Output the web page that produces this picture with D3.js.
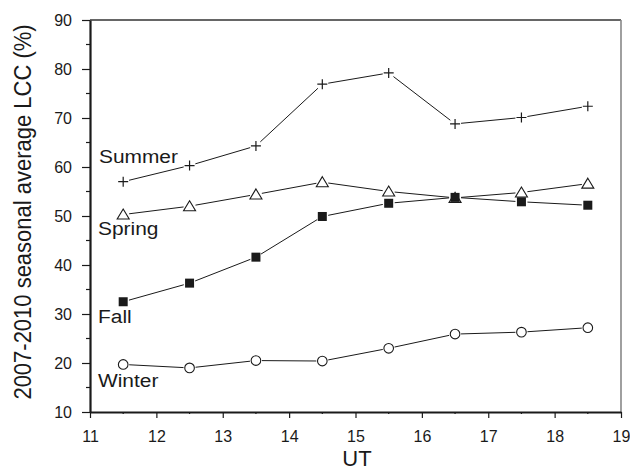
<!DOCTYPE html>
<html>
<head>
<meta charset="utf-8">
<script src="https://cdn.jsdelivr.net/npm/d3@7"></script>
<style>
  body { margin: 0; background: #fff; }
  svg { display: block; font-family: "Liberation Sans", Arial, sans-serif; }
</style>
</head>
<body>
<svg id="chart" width="630" height="471"></svg>
<script>
// data
var hours = [11.5, 12.5, 13.5, 14.5, 15.5, 16.5, 17.5, 18.5];
var summer = [57.0, 60.3, 64.3, 76.9, 79.2, 68.8, 70.1, 72.4];
var spring = [50.3, 52.0, 54.4, 56.9, 55.0, 53.7, 54.8, 56.6];
var fall   = [32.5, 36.3, 41.6, 49.9, 52.6, 53.8, 52.9, 52.2];
var winter = [19.7, 19.0, 20.5, 20.4, 23.0, 25.9, 26.3, 27.2];
var xTicks = [11, 12, 13, 14, 15, 16, 17, 18, 19];
var yTicks = [10, 20, 30, 40, 50, 60, 70, 80, 90];

var series = [
  { name: "Summer", values: summer, marker: "plus",     lx: 99, ly: 163 },
  { name: "Spring", values: spring, marker: "triangle", lx: 98, ly: 235 },
  { name: "Fall",   values: fall,   marker: "square",   lx: 98, ly: 323 },
  { name: "Winter", values: winter, marker: "circle",   lx: 98, ly: 387 }
];

var svg = d3.select("#chart");
var pLeft = 90, pRight = 621, pTop = 20, pBottom = 412;
var ink = "#1a1a1a";
var stretch = 1.1; // the source font runs a bit wide

var x = d3.scaleLinear().domain([11, 19]).range([pLeft, pRight]);
var y = d3.scaleLinear().domain([10, 90]).range([pBottom, pTop]);

// frame: thin top and right
svg.append("line")
  .attr("x1", pLeft).attr("x2", pRight).attr("y1", pTop).attr("y2", pTop)
  .attr("stroke", "#333").attr("stroke-width", 1.3);
svg.append("line")
  .attr("x1", pRight).attr("x2", pRight).attr("y1", pTop).attr("y2", pBottom)
  .attr("stroke", "#888").attr("stroke-width", 1.6);

// minor ticks
var yMinor = d3.range(15, 90, 10);
var xMinor = d3.range(11.5, 19, 1);
svg.append("g").selectAll("line").data(yMinor).join("line")
  .attr("x1", pLeft - 4).attr("x2", pLeft)
  .attr("y1", function(d) { return y(d); }).attr("y2", function(d) { return y(d); })
  .attr("stroke", ink).attr("stroke-width", 1.2);
svg.append("g").selectAll("line").data(xMinor).join("line")
  .attr("x1", function(d) { return x(d); }).attr("x2", function(d) { return x(d); })
  .attr("y1", pBottom).attr("y2", pBottom + 2)
  .attr("stroke", ink).attr("stroke-width", 1.2);

// axes
var yAxis = svg.append("g")
  .attr("transform", "translate(" + pLeft + ",0)")
  .call(d3.axisLeft(y).tickValues(yTicks).tickSize(8).tickSizeOuter(0).tickPadding(10));
var xAxis = svg.append("g")
  .attr("transform", "translate(0," + pBottom + ")")
  .call(d3.axisBottom(x).tickValues(xTicks).tickSize(6).tickSizeOuter(0).tickPadding(13));

[yAxis, xAxis].forEach(function(g) {
  g.select(".domain").attr("stroke", ink).attr("stroke-width", 2.2);
  g.selectAll(".tick line").attr("stroke", ink).attr("stroke-width", 1.2);
  g.selectAll(".tick text")
    .attr("fill", ink)
    .style("font-size", "16px")
    .style("font-family", "'Liberation Sans', Arial, sans-serif");
});

// axis titles
svg.append("text")
  .attr("transform", "translate(31,212) rotate(-90) scale(1,1.1)")
  .attr("text-anchor", "middle")
  .attr("fill", ink)
  .style("font-size", "22px")
  .text("2007-2010 seasonal average LCC (%)");
svg.append("text")
  .attr("x", 357).attr("y", 466)
  .attr("text-anchor", "middle")
  .attr("fill", ink)
  .style("font-size", "22px")
  .text("UT");

// lines: segments trimmed so they stop short of the markers
var gap = 6;
series.forEach(function(s) {
  var pts = hours.map(function(h, i) { return [x(h), y(s.values[i])]; });
  var segs = [];
  for (var i = 0; i < pts.length - 1; i++) {
    var a = pts[i], b = pts[i + 1];
    var dx = b[0] - a[0], dy = b[1] - a[1];
    var len = Math.sqrt(dx * dx + dy * dy);
    var ux = dx / len, uy = dy / len;
    segs.push([a[0] + ux * gap, a[1] + uy * gap, b[0] - ux * gap, b[1] - uy * gap]);
  }
  svg.append("g").selectAll("line").data(segs).join("line")
    .attr("x1", function(d) { return d[0]; }).attr("y1", function(d) { return d[1]; })
    .attr("x2", function(d) { return d[2]; }).attr("y2", function(d) { return d[3]; })
    .attr("stroke", ink).attr("stroke-width", 1);

  var g = svg.append("g");
  var mk = g.selectAll("g").data(pts).join("g")
    .attr("transform", function(d) { return "translate(" + d[0] + "," + d[1] + ")"; });
  if (s.marker === "plus") {
    mk.append("path").attr("d", "M-5,0H5M0,-5V5")
      .attr("stroke", ink).attr("stroke-width", 1.2).attr("fill", "none");
  } else if (s.marker === "triangle") {
    mk.append("path").attr("d", "M0,-5.5L6,4.5L-6,4.5Z")
      .attr("stroke", ink).attr("stroke-width", 1.1).attr("fill", "#fff");
  } else if (s.marker === "square") {
    mk.append("rect").attr("x", -4.5).attr("y", -4.5).attr("width", 9).attr("height", 9)
      .attr("fill", ink);
  } else {
    mk.append("circle").attr("r", 4.8)
      .attr("stroke", ink).attr("stroke-width", 1.1).attr("fill", "#fff");
  }

  svg.append("text")
    .attr("transform", "translate(" + s.lx + "," + s.ly + ") scale(" + stretch + ",1)")
    .attr("fill", ink)
    .style("font-size", "19px")
    .text(s.name);
});
</script>
</body>
</html>
